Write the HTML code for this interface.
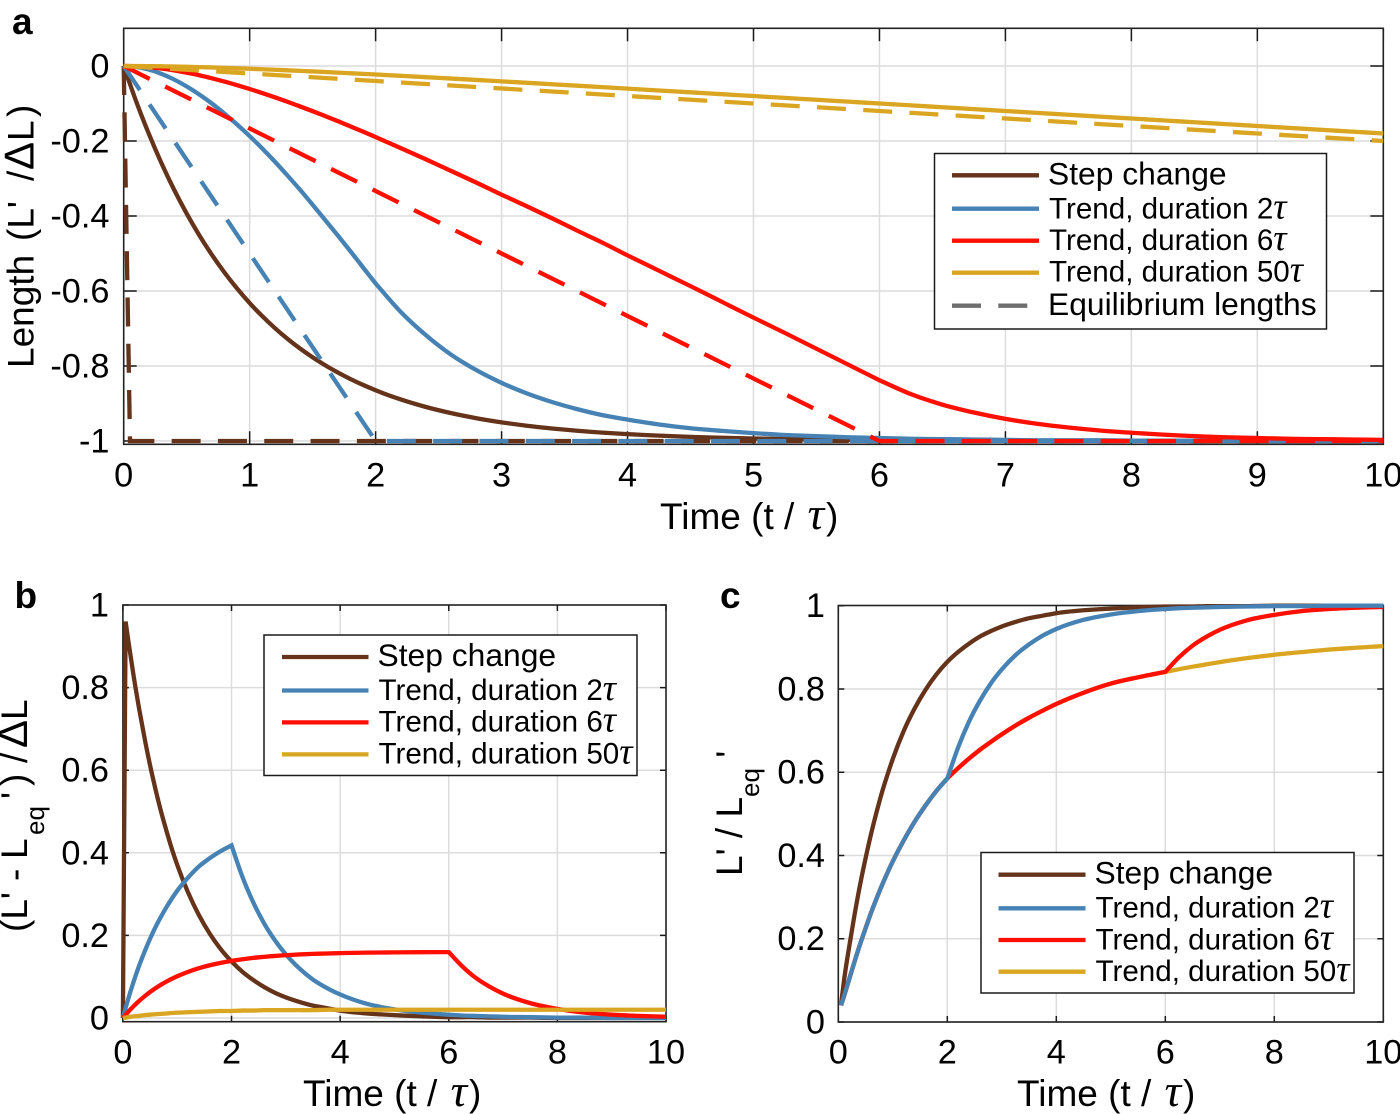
<!DOCTYPE html>
<html lang="en">
<head>
<meta charset="utf-8">
<title>Glacier length response</title>
<style>
html,body{margin:0;padding:0;background:#fff;}
svg{display:block;font-family:"Liberation Sans",Arial,sans-serif;fill:#000;}
.leg{font-size:29.6px;white-space:pre;}
.leg1{font-size:31.8px;white-space:pre;}
.tau{font-family:"Liberation Serif",serif;font-style:italic;}
.tick{font-size:34.3px;}
.title{font-size:37px;white-space:pre;}
.panel{font-size:37px;font-weight:bold;}
</style>
</head>
<body>
<svg id="fig" xmlns="http://www.w3.org/2000/svg" width="1400" height="1114" viewBox="0 0 1400 1114">
  <g id="panelA"></g>
  <g id="panelB"></g>
  <g id="panelC"></g>

  <text class="panel" x="12" y="34">a</text>
  <text class="panel" x="14.5" y="608">b</text>
  <text class="panel" x="720" y="608">c</text>

  <text class="title" x="660" y="529">Time (t / <tspan class="tau" font-size="46" dx="3">τ</tspan><tspan dx="2">)</tspan></text>
  <text class="title" x="303" y="1106">Time (t / <tspan class="tau" font-size="46" dx="3">τ</tspan><tspan dx="2">)</tspan></text>
  <text class="title" x="1017" y="1106">Time (t / <tspan class="tau" font-size="46" dx="3">τ</tspan><tspan dx="2">)</tspan></text>

  <text class="title" transform="translate(33.5,368) rotate(-90)"><tspan x="0" y="0">Length</tspan><tspan x="127" y="0">(L'</tspan><tspan x="187" y="0">/</tspan><tspan x="198" y="0" font-size="42">Δ</tspan><tspan x="227" y="0">L</tspan><tspan x="251" y="0">)</tspan></text>
  <text class="title" transform="translate(27,932) rotate(-90)"><tspan x="0" y="0">(L'</tspan><tspan x="51" y="0">-</tspan><tspan x="73" y="0">L</tspan><tspan x="97" y="17" font-size="26">eq</tspan><tspan x="133" y="0">'</tspan><tspan x="146" y="0">)</tspan><tspan x="169" y="0">/</tspan><tspan x="184" y="0" font-size="42">Δ</tspan><tspan x="212" y="0">L</tspan></text>
  <text class="title" transform="translate(742,876) rotate(-90)">L' / L<tspan font-size="26" dy="17">eq</tspan><tspan dy="-17"> '</tspan></text>

  <g id="legendA">
    <rect x="934.5" y="153.5" width="392" height="175.5" fill="#fff" stroke="#1a1a1a" stroke-width="1.5"/>
    <g><line x1="952" x2="1039" y1="175.3" y2="175.3" stroke="#65321a" stroke-width="4.3"/><text class="leg1" x="1048" y="184.5">Step change</text></g>
    <g><line x1="952" x2="1039" y1="208.7" y2="208.7" stroke="#4682b4" stroke-width="4.3"/><text class="leg" x="1049" y="218.3">Trend, duration 2<tspan class="tau" font-size="37">τ</tspan></text></g>
    <g><line x1="952" x2="1039" y1="240.7" y2="240.7" stroke="#ff0f00" stroke-width="4.3"/><text class="leg" x="1049" y="250">Trend, duration 6<tspan class="tau" font-size="37">τ</tspan></text></g>
    <g><line x1="952" x2="1039" y1="272.7" y2="272.7" stroke="#daa520" stroke-width="4.3"/><text class="leg" x="1049" y="281.7">Trend, duration 50<tspan class="tau" font-size="37">τ</tspan></text></g>
    <g><line x1="952" x2="1028" y1="305.7" y2="305.7" stroke="#6e6e6e" stroke-width="4.3" stroke-dasharray="29 17.3"/><text class="leg1" x="1048" y="315">Equilibrium lengths</text></g>
  </g>

  <g id="legendB">
    <rect x="264" y="635" width="373" height="140.5" fill="#fff" stroke="#1a1a1a" stroke-width="1.5"/>
    <g><line x1="282" x2="368.5" y1="657" y2="657" stroke="#65321a" stroke-width="4.3"/><text class="leg1" x="377.5" y="666">Step change</text></g>
    <g><line x1="282" x2="368.5" y1="690.5" y2="690.5" stroke="#4682b4" stroke-width="4.3"/><text class="leg" x="378.5" y="700">Trend, duration 2<tspan class="tau" font-size="37">τ</tspan></text></g>
    <g><line x1="282" x2="368.5" y1="722.4" y2="722.4" stroke="#ff0f00" stroke-width="4.3"/><text class="leg" x="378.5" y="731.7">Trend, duration 6<tspan class="tau" font-size="37">τ</tspan></text></g>
    <g><line x1="282" x2="368.5" y1="754.4" y2="754.4" stroke="#daa520" stroke-width="4.3"/><text class="leg" x="378.5" y="763.4">Trend, duration 50<tspan class="tau" font-size="37">τ</tspan></text></g>
  </g>

  <g id="legendC">
    <rect x="981" y="852.5" width="373" height="140.5" fill="#fff" stroke="#1a1a1a" stroke-width="1.5"/>
    <g><line x1="998.5" x2="1085.5" y1="874.7" y2="874.7" stroke="#65321a" stroke-width="4.3"/><text class="leg1" x="1094.5" y="883.5">Step change</text></g>
    <g><line x1="998.5" x2="1085.5" y1="908.3" y2="908.3" stroke="#4682b4" stroke-width="4.3"/><text class="leg" x="1095.5" y="917.5">Trend, duration 2<tspan class="tau" font-size="37">τ</tspan></text></g>
    <g><line x1="998.5" x2="1085.5" y1="940" y2="940" stroke="#ff0f00" stroke-width="4.3"/><text class="leg" x="1095.5" y="949.3">Trend, duration 6<tspan class="tau" font-size="37">τ</tspan></text></g>
    <g><line x1="998.5" x2="1085.5" y1="971.7" y2="971.7" stroke="#daa520" stroke-width="4.3"/><text class="leg" x="1095.5" y="981">Trend, duration 50<tspan class="tau" font-size="37">τ</tspan></text></g>
  </g>
</svg>

<script>
// ---------- Panel a data ----------
const xTicksA = [0,1,2,3,4,5,6,7,8,9,10];
const yTicksA = [0,-0.2,-0.4,-0.6,-0.8,-1];
const timeA = [0,0.1,0.2,0.3,0.4,0.5,0.6,0.7,0.8,0.9,1,1.1,1.2,1.3,1.4,1.5,1.6,1.7,1.8,1.9,2,2.2,2.4,2.6,2.8,3,3.2,3.4,3.6,3.8,4,4.25,4.5,4.75,5,5.25,5.5,5.75,6,6.25,6.5,6.75,7,7.25,7.5,7.75,8,8.25,8.5,8.75,9,9.25,9.5,9.75,10];
const stepA = [0,-0.0952,-0.1813,-0.2592,-0.3297,-0.3935,-0.4512,-0.5034,-0.5507,-0.5934,-0.6321,-0.6671,-0.6988,-0.7275,-0.7534,-0.7769,-0.7981,-0.8173,-0.8347,-0.8504,-0.8647,-0.8892,-0.9093,-0.9257,-0.9392,-0.9502,-0.9592,-0.9666,-0.9727,-0.9776,-0.9817,-0.9857,-0.9889,-0.9913,-0.9933,-0.9948,-0.9959,-0.9968,-0.9975,-0.9981,-0.9985,-0.9988,-0.9991,-0.9993,-0.9994,-0.9996,-0.9997,-0.9997,-0.9998,-0.9998,-0.9999,-0.9999,-0.9999,-1,-1];
const trend2A = [0,-0.0025,-0.0095,-0.021,-0.036,-0.0545,-0.076,-0.1,-0.127,-0.156,-0.187,-0.22,-0.255,-0.292,-0.33,-0.37,-0.411,-0.452,-0.494,-0.537,-0.58,-0.656,-0.718,-0.77,-0.811,-0.845,-0.873,-0.896,-0.915,-0.931,-0.943,-0.956,-0.966,-0.973,-0.979,-0.984,-0.987,-0.99,-0.992,-0.994,-0.995,-0.996,-0.997,-0.998,-0.998,-0.998,-0.999,-0.999,-0.999,-0.999,-1,-1,-1,-1,-1];
const trend6A = [0,-0.0008,-0.0031,-0.0068,-0.0117,-0.0178,-0.0247,-0.0328,-0.0416,-0.0511,-0.0613,-0.0722,-0.0835,-0.0954,-0.1078,-0.1205,-0.1337,-0.1471,-0.161,-0.175,-0.1895,-0.219,-0.249,-0.28,-0.311,-0.343,-0.374,-0.406,-0.439,-0.471,-0.505,-0.546,-0.587,-0.629,-0.671,-0.712,-0.754,-0.796,-0.838,-0.875,-0.903,-0.924,-0.941,-0.954,-0.964,-0.972,-0.978,-0.983,-0.987,-0.99,-0.992,-0.994,-0.995,-0.996,-0.997];
const trend50A = [0,0,-0.0004,-0.0008,-0.0014,-0.0021,-0.003,-0.0039,-0.005,-0.0061,-0.0074,-0.0087,-0.01,-0.0115,-0.013,-0.0145,-0.016,-0.0177,-0.0193,-0.021,-0.0227,-0.0262,-0.0298,-0.0335,-0.0372,-0.041,-0.0448,-0.0487,-0.0525,-0.0564,-0.0604,-0.0653,-0.0702,-0.0752,-0.0801,-0.0851,-0.0901,-0.0951,-0.1,-0.105,-0.11,-0.115,-0.12,-0.125,-0.13,-0.135,-0.14,-0.145,-0.15,-0.155,-0.16,-0.165,-0.17,-0.175,-0.18];
const eqStepTime = [0,0.05,10];
const eqStepValue = [0,-1,-1];
const eqTrend2Time = [0,2,10];
const eqTrend2Value = [0,-1,-1];
const eqTrend6Time = [0,6,10];
const eqTrend6Value = [0,-1,-1];
const eqTrend50Time = [0,10];
const eqTrend50Value = [0,-0.2];

// ---------- Panel b data ----------
const xTicksB = [0,2,4,6,8,10];
const yTicksB = [0,0.2,0.4,0.6,0.8,1];
const timeB = [0,0.05,0.1,0.2,0.3,0.4,0.5,0.6,0.7,0.8,0.9,1,1.2,1.4,1.6,1.8,2,2.2,2.4,2.6,2.8,3,3.25,3.5,3.75,4,4.5,5,5.5,6,6.25,6.5,6.75,7,7.5,8,8.5,9,9.5,10];
const stepB = [0,0.96,0.913,0.826,0.748,0.677,0.612,0.554,0.501,0.454,0.41,0.371,0.304,0.249,0.204,0.167,0.137,0.112,0.092,0.075,0.061,0.05,0.039,0.03,0.024,0.018,0.011,0.007,0.004,0.002,0.002,0.002,0.001,0.001,0.001,0,0,0,0,0];
const trend2B = [0,0.024,0.047,0.089,0.127,0.161,0.192,0.22,0.245,0.268,0.289,0.308,0.34,0.367,0.387,0.404,0.418,0.342,0.28,0.229,0.188,0.154,0.12,0.093,0.073,0.057,0.034,0.021,0.013,0.008,0.006,0.005,0.004,0.003,0.002,0.001,0.001,0,0,0];
const trend6B = [0,0.0078,0.0152,0.029,0.0415,0.0527,0.063,0.0722,0.0805,0.0881,0.0949,0.1011,0.1118,0.1206,0.1277,0.1335,0.1383,0.1422,0.1455,0.1481,0.1503,0.152,0.1539,0.1552,0.1562,0.1571,0.1582,0.1589,0.1594,0.1596,0.125,0.097,0.076,0.059,0.036,0.022,0.013,0.008,0.005,0.003];
const trend50B = [0,0.001,0.002,0.004,0.005,0.007,0.008,0.009,0.01,0.011,0.012,0.013,0.014,0.015,0.016,0.017,0.017,0.018,0.018,0.019,0.019,0.019,0.019,0.019,0.02,0.02,0.02,0.02,0.02,0.02,0.02,0.02,0.02,0.02,0.02,0.02,0.02,0.02,0.02,0.02];

// ---------- Panel c data ----------
const xTicksC = [0,2,4,6,8,10];
const yTicksC = [0,0.2,0.4,0.6,0.8,1];
const timeC = [0.05,0.1,0.2,0.3,0.4,0.5,0.6,0.7,0.8,0.9,1,1.2,1.4,1.6,1.8,2,2.2,2.4,2.6,2.8,3,3.25,3.5,3.75,4,4.5,5,5.5,6,6.25,6.5,6.75,7,7.5,8,8.5,9,9.5,10];
const stepC = [0.04,0.095,0.181,0.259,0.33,0.393,0.451,0.503,0.551,0.593,0.632,0.699,0.753,0.798,0.835,0.865,0.889,0.909,0.926,0.939,0.95,0.961,0.97,0.976,0.982,0.989,0.993,0.996,0.998,0.998,0.998,0.999,0.999,0.999,1,1,1,1,1];
const trend2C = [0.04,0.06,0.103,0.146,0.187,0.225,0.262,0.296,0.328,0.358,0.386,0.436,0.481,0.52,0.555,0.585,0.66,0.722,0.772,0.8135,0.847,0.881,0.907,0.928,0.944,0.966,0.979,0.987,0.992,0.994,0.995,0.996,0.997,0.998,0.999,0.999,1,1,1];
const trend6C = [0.04,0.06,0.103,0.146,0.187,0.225,0.262,0.296,0.328,0.358,0.386,0.436,0.481,0.52,0.555,0.585,0.61,0.633,0.654,0.673,0.691,0.712,0.731,0.748,0.764,0.791,0.813,0.828,0.841,0.876,0.904,0.925,0.942,0.965,0.978,0.987,0.992,0.995,0.997];
const trend50C = [0.04,0.06,0.103,0.146,0.187,0.225,0.262,0.296,0.328,0.358,0.386,0.436,0.481,0.52,0.555,0.585,0.61,0.633,0.654,0.673,0.691,0.712,0.731,0.748,0.764,0.791,0.813,0.828,0.841,0.8475,0.8535,0.859,0.8645,0.874,0.882,0.8885,0.8945,0.899,0.903];

// ---------- Drawing ----------
const NS = 'http://www.w3.org/2000/svg';
const BROWN = '#65321a', BLUE = '#4682b4', RED = '#ff0f00', GOLD = '#daa520';

function make(tag, parent, attrs) {
  const el = document.createElementNS(NS, tag);
  for (const k in attrs) el.setAttribute(k, attrs[k]);
  parent.appendChild(el);
  return el;
}

function linearX(g) { return v => g.x0 + v * g.xUnit; }
function linearY(g) { return v => g.y0 - v * g.yUnit; }

function drawAxes(parent, g, xTicks, yTicks, xs, ys) {
  xTicks.forEach(v => {
    const x = xs(v);
    if (v > xTicks[0] && v < xTicks[xTicks.length - 1]) {
      const gl = make('line', parent, {x1: x, x2: x, y1: g.top, y2: g.bottom, stroke: '#dcdcdc', 'stroke-width': 1.5});
      
      
    }
  });
  yTicks.forEach(v => {
    const y = ys(v);
    if (y > g.top + 1) {
      const gl = make('line', parent, {x1: g.left, x2: g.right, y1: y, y2: y, stroke: '#dcdcdc', 'stroke-width': 1.5});
      
      
    }
  });
  const d = [];
  xTicks.forEach(v => {
    const x = xs(v);
    d.push('M' + x + ' ' + g.bottom + 'v' + (-g.tick), 'M' + x + ' ' + g.top + 'v' + g.tick);
  });
  yTicks.forEach(v => {
    const y = ys(v);
    d.push('M' + g.left + ' ' + y + 'h' + g.tick, 'M' + g.right + ' ' + y + 'h' + (-g.tick));
  });
  const ticks = make('path', parent, {d: d.join(''), stroke: '#1a1a1a', 'stroke-width': 1.5, fill: 'none'});
  
  
  const box = make('rect', parent, {x: g.left, y: g.top, width: g.right - g.left, height: g.bottom - g.top, fill: 'none', stroke: '#222', 'stroke-width': 1.6});
  
  
  xTicks.forEach(v => {
    const t = make('text', parent, {class: 'tick', x: xs(v), y: g.xLabelY, 'text-anchor': 'middle'});
    t.textContent = String(v);
    
    
  });
  yTicks.forEach(v => {
    const t = make('text', parent, {class: 'tick', x: g.yLabelX, y: ys(v) + 11.5, 'text-anchor': 'end'});
    t.textContent = String(v);
    
    
  });
}

// Smooth cubic through the samples; a corner is kept at each time in `corners`.
function curvePath(times, values, xs, ys, corners) {
  const px = times.map(xs), py = values.map(ys);
  const n = px.length;
  const isCorner = i => corners.indexOf(times[i]) !== -1;
  const slope = i => (py[i + 1] - py[i]) / (px[i + 1] - px[i]);
  const tanRight = [], tanLeft = [];
  for (let i = 0; i < n; i++) {
    if (i === 0) { tanRight[i] = slope(0); continue; }
    if (i === n - 1) { tanLeft[i] = slope(n - 2); continue; }
    if (isCorner(i)) { tanLeft[i] = slope(i - 1); tanRight[i] = slope(i); continue; }
    const h0 = px[i] - px[i - 1], h1 = px[i + 1] - px[i];
    const m = (slope(i - 1) * h1 + slope(i) * h0) / (h0 + h1);
    tanLeft[i] = m;
    tanRight[i] = m;
  }
  let d = 'M' + px[0].toFixed(2) + ' ' + py[0].toFixed(2);
  for (let i = 0; i < n - 1; i++) {
    const h = (px[i + 1] - px[i]) / 3;
    d += 'C' + (px[i] + h).toFixed(2) + ' ' + (py[i] + tanRight[i] * h).toFixed(2) + ' ' +
         (px[i + 1] - h).toFixed(2) + ' ' + (py[i + 1] - tanLeft[i + 1] * h).toFixed(2) + ' ' +
         px[i + 1].toFixed(2) + ' ' + py[i + 1].toFixed(2);
  }
  return d;
}

function drawCurve(parent, name, times, values, color, xs, ys, corners) {
  const line = make('path', parent, {d: curvePath(times, values, xs, ys, corners), fill: 'none', stroke: color, 'stroke-width': 4.3});
  
  
}

function drawDashed(parent, name, times, values, color, xs, ys) {
  const pts = times.map((t, i) => xs(t).toFixed(2) + ',' + ys(values[i]).toFixed(2)).join(' ');
  const line = make('polyline', parent, {points: pts, fill: 'none', stroke: color, 'stroke-width': 4.3, 'stroke-dasharray': '29 17.3'});
  
  
}

const geomA = {left:123.7, right:1383.3, top:28.3, bottom:444.3, x0:123.7, xUnit:125.96, y0:66, yUnit:375, tick:13, xLabelY:486.7, yLabelX:109.5};
const geomB = {left:122.9, right:666, top:605, bottom:1021.7, x0:122.9, xUnit:54.31, y0:1018, yUnit:413, tick:6, xLabelY:1063.5, yLabelX:109};
const geomC = {left:838.3, right:1383.3, top:605.5, bottom:1022, x0:838.3, xUnit:54.5, y0:1022, yUnit:416.3, tick:6, xLabelY:1063.5, yLabelX:825};

(function () {
  const pa = document.getElementById('panelA');
  const xs = linearX(geomA), ys = linearY(geomA);
  drawAxes(pa, geomA, xTicksA, yTicksA, xs, ys);
  drawCurve(pa, 'step-change-line', timeA, stepA, BROWN, xs, ys, []);
  drawDashed(pa, 'equilibrium-step-line', eqStepTime, eqStepValue, BROWN, xs, ys);
  drawCurve(pa, 'trend-2-line', timeA, trend2A, BLUE, xs, ys, [2]);
  drawDashed(pa, 'equilibrium-trend-2-line', eqTrend2Time, eqTrend2Value, BLUE, xs, ys);
  drawCurve(pa, 'trend-6-line', timeA, trend6A, RED, xs, ys, [6]);
  drawDashed(pa, 'equilibrium-trend-6-line', eqTrend6Time, eqTrend6Value, RED, xs, ys);
  drawDashed(pa, 'equilibrium-trend-50-line', eqTrend50Time, eqTrend50Value, GOLD, xs, ys);
  drawCurve(pa, 'trend-50-line', timeA, trend50A, GOLD, xs, ys, []);

  const pb = document.getElementById('panelB');
  const xb = linearX(geomB), yb = linearY(geomB);
  drawAxes(pb, geomB, xTicksB, yTicksB, xb, yb);
  drawCurve(pb, 'step-change-line', timeB, stepB, BROWN, xb, yb, [0.05]);
  drawCurve(pb, 'trend-2-line', timeB, trend2B, BLUE, xb, yb, [2]);
  drawCurve(pb, 'trend-6-line', timeB, trend6B, RED, xb, yb, [6]);
  drawCurve(pb, 'trend-50-line', timeB, trend50B, GOLD, xb, yb, []);

  const pc = document.getElementById('panelC');
  const xc = linearX(geomC), yc = linearY(geomC);
  drawAxes(pc, geomC, xTicksC, yTicksC, xc, yc);
  drawCurve(pc, 'step-change-line', timeC, stepC, BROWN, xc, yc, []);
  drawCurve(pc, 'trend-50-line', timeC, trend50C, GOLD, xc, yc, [6]);
  drawCurve(pc, 'trend-6-line', timeC, trend6C, RED, xc, yc, [6]);
  drawCurve(pc, 'trend-2-line', timeC, trend2C, BLUE, xc, yc, [2]);
})();
</script>
</body>
</html>
